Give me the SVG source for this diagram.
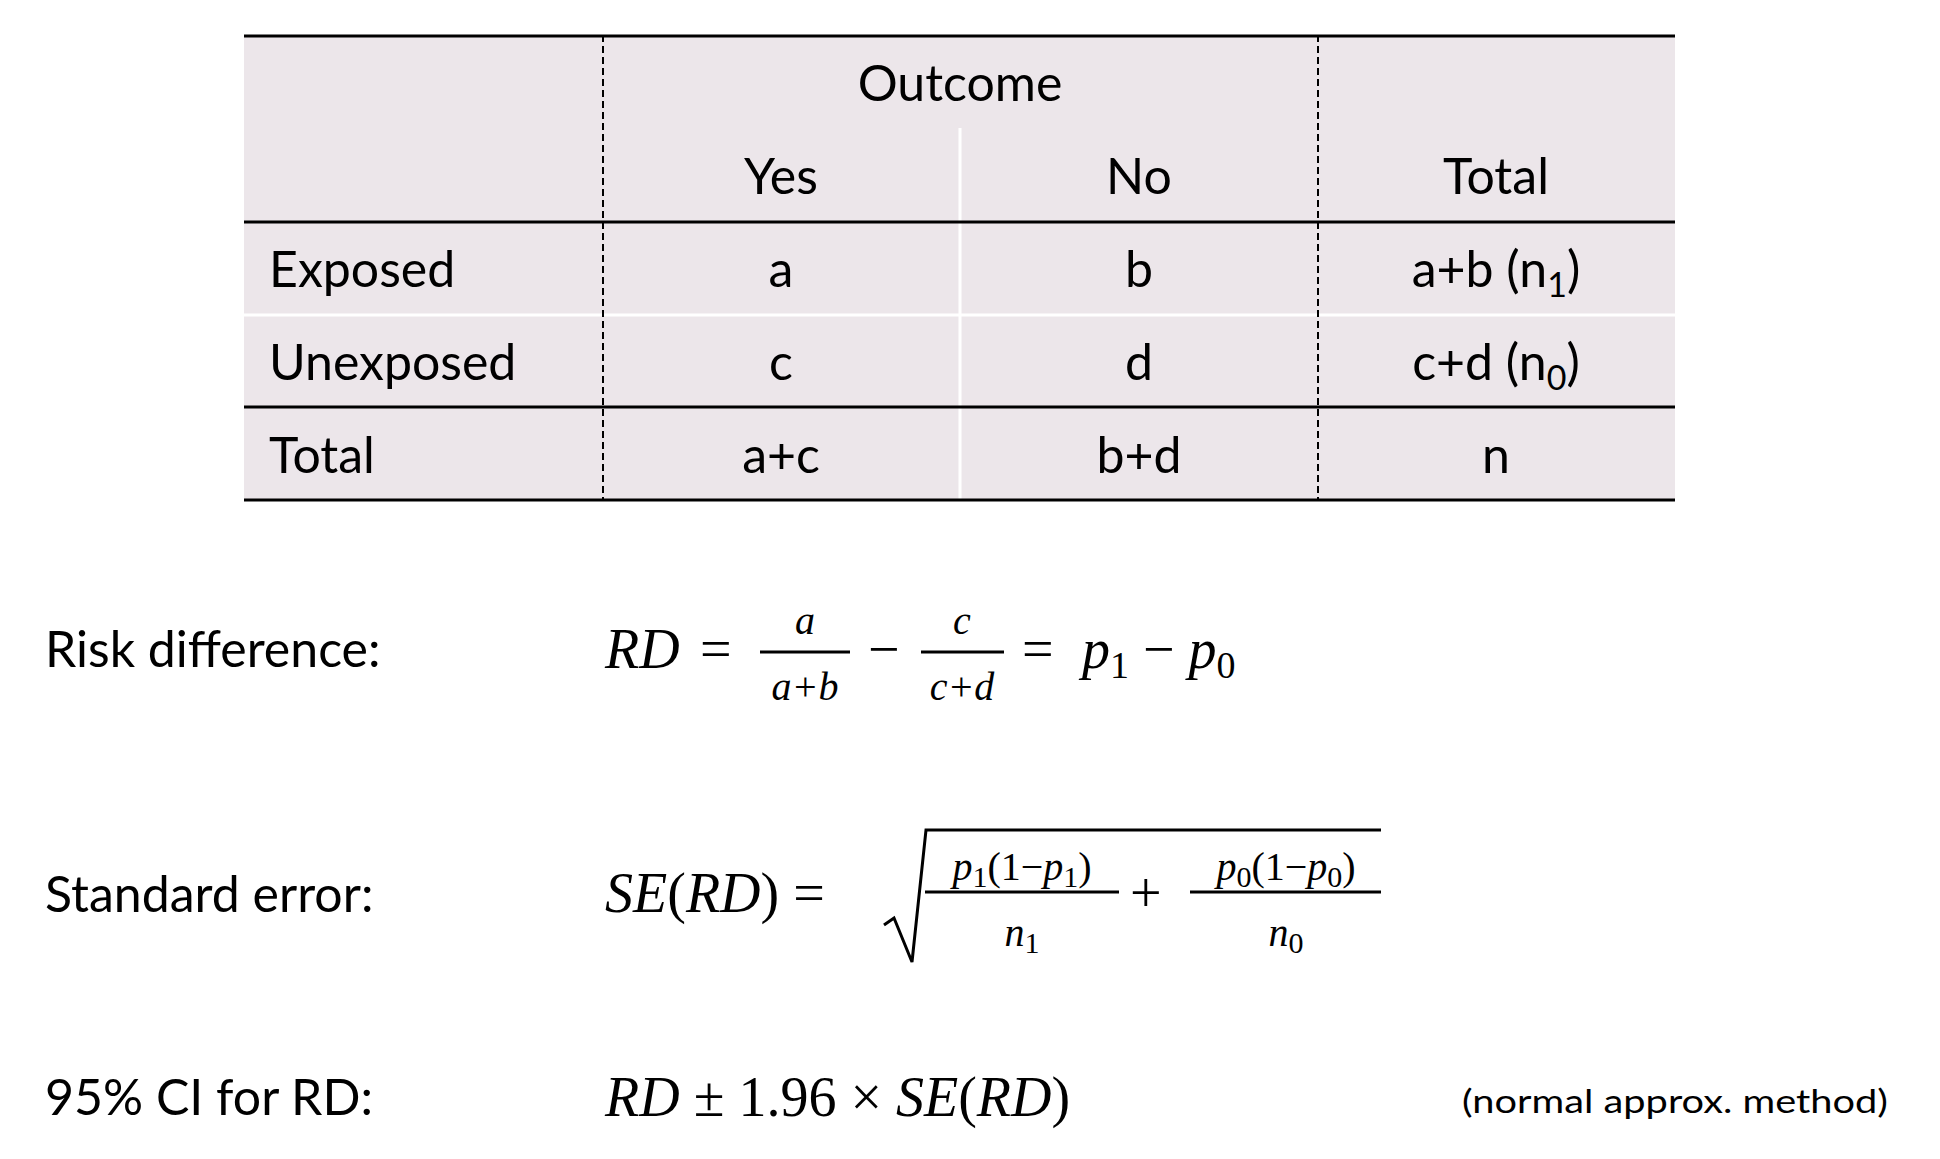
<svg xmlns="http://www.w3.org/2000/svg" width="1940" height="1159" viewBox="0 0 1940 1159">
<style>
.t{font-family:Lato,"Open Sans",sans-serif;font-size:50px;fill:#000}
.c{text-anchor:middle}
.m{font-family:"Liberation Serif",serif;font-style:italic;font-size:56px;fill:#000}
.mu{font-family:"Liberation Serif",serif;font-size:56px;fill:#000}
.s{font-size:40px}
.thick{stroke:#000;stroke-width:3}
.dash{stroke:#000;stroke-width:2;stroke-dasharray:7,4}
</style>
<rect width="1940" height="1159" fill="#fff"/>
<g id="table">
<rect x="244" y="35" width="1431" height="465" fill="#ece6ea"/>
<line x1="960" y1="128" x2="960" y2="500" stroke="#fff" stroke-width="3"/>
<line x1="244" y1="315" x2="1675" y2="315" stroke="#fff" stroke-width="3"/>
<line class="dash" x1="603" y1="35" x2="603" y2="500"/>
<line class="dash" x1="1318" y1="35" x2="1318" y2="500"/>
<line class="thick" x1="244" y1="36" x2="1675" y2="36"/>
<line class="thick" x1="244" y1="222" x2="1675" y2="222"/>
<line class="thick" x1="244" y1="407" x2="1675" y2="407"/>
<line class="thick" x1="244" y1="500" x2="1675" y2="500"/>
<text class="t c" x="960" y="101">Outcome</text>
<text class="t c" x="781" y="194">Yes</text>
<text class="t c" x="1139" y="194">No</text>
<text class="t c" x="1496" y="194">Total</text>
<text class="t" x="269" y="287">Exposed</text>
<text class="t c" x="781" y="287">a</text>
<text class="t c" x="1139" y="287">b</text>
<text class="t c" x="1496" y="287">a+b (n<tspan font-size="34" dy="10">1</tspan><tspan dy="-10">)</tspan></text>
<text class="t" x="269" y="380">Unexposed</text>
<text class="t c" x="781" y="380">c</text>
<text class="t c" x="1139" y="380">d</text>
<text class="t c" x="1496" y="380">c+d (n<tspan font-size="34" dy="10">0</tspan><tspan dy="-10">)</tspan></text>
<text class="t" x="269" y="473">Total</text>
<text class="t c" x="781" y="473">a+c</text>
<text class="t c" x="1139" y="473">b+d</text>
<text class="t c" x="1496" y="473">n</text>
</g>
<g id="rd">
<text class="t" x="45" y="667">Risk difference:</text>
<text class="m" x="605" y="668">RD</text>
<text class="mu" x="700" y="668">=</text>
<text class="m s c" x="805" y="634">a</text>
<line x1="760" y1="652" x2="850" y2="652" stroke="#000" stroke-width="3"/>
<text class="m s c" x="805" y="700">a+b</text>
<text class="mu" x="868" y="668">−</text>
<text class="m s c" x="962" y="634">c</text>
<line x1="921" y1="652" x2="1004" y2="652" stroke="#000" stroke-width="3"/>
<text class="m s c" x="962" y="700">c+d</text>
<text class="mu" x="1022" y="668">=</text>
<text class="m" x="1082" y="668">p<tspan style="font-size:38px;font-style:normal" dy="10">1</tspan><tspan style="font-style:normal" dy="-10"> − </tspan>p<tspan style="font-size:38px;font-style:normal" dy="10">0</tspan></text>
</g>
<g id="se">
<text class="t" x="45" y="912">Standard error:</text>
<text class="m" x="605" y="912">SE<tspan font-style="normal">(</tspan>RD<tspan font-style="normal">) =</tspan></text>
<path d="M884,925 L894,918 L912,962 L926,830 L1381,830" fill="none" stroke="#000" stroke-width="3"/>
<text class="m s c" x="1022" y="880">p<tspan style="font-size:30px;font-style:normal" dy="7">1</tspan><tspan font-style="normal" dy="-7">(1−</tspan>p<tspan style="font-size:30px;font-style:normal" dy="7">1</tspan><tspan font-style="normal" dy="-7">)</tspan></text>
<line x1="925" y1="892" x2="1119" y2="892" stroke="#000" stroke-width="3"/>
<text class="m s c" x="1022" y="946">n<tspan style="font-size:30px;font-style:normal" dy="7">1</tspan></text>
<text class="mu" x="1130" y="912">+</text>
<text class="m s c" x="1286" y="880">p<tspan style="font-size:30px;font-style:normal" dy="7">0</tspan><tspan font-style="normal" dy="-7">(1−</tspan>p<tspan style="font-size:30px;font-style:normal" dy="7">0</tspan><tspan font-style="normal" dy="-7">)</tspan></text>
<line x1="1190" y1="892" x2="1381" y2="892" stroke="#000" stroke-width="3"/>
<text class="m s c" x="1286" y="946">n<tspan style="font-size:30px;font-style:normal" dy="7">0</tspan></text>
</g>
<g id="ci">
<text class="t" x="45" y="1115">95% CI for RD:</text>
<text class="m" x="605" y="1116">RD<tspan font-style="normal"> ± 1.96 × </tspan>SE<tspan font-style="normal">(</tspan>RD<tspan font-style="normal">)</tspan></text>
<text class="t" x="1462" y="1113" style="font-size:32px" textLength="426" lengthAdjust="spacingAndGlyphs">(normal approx. method)</text>
</g>
</svg>
